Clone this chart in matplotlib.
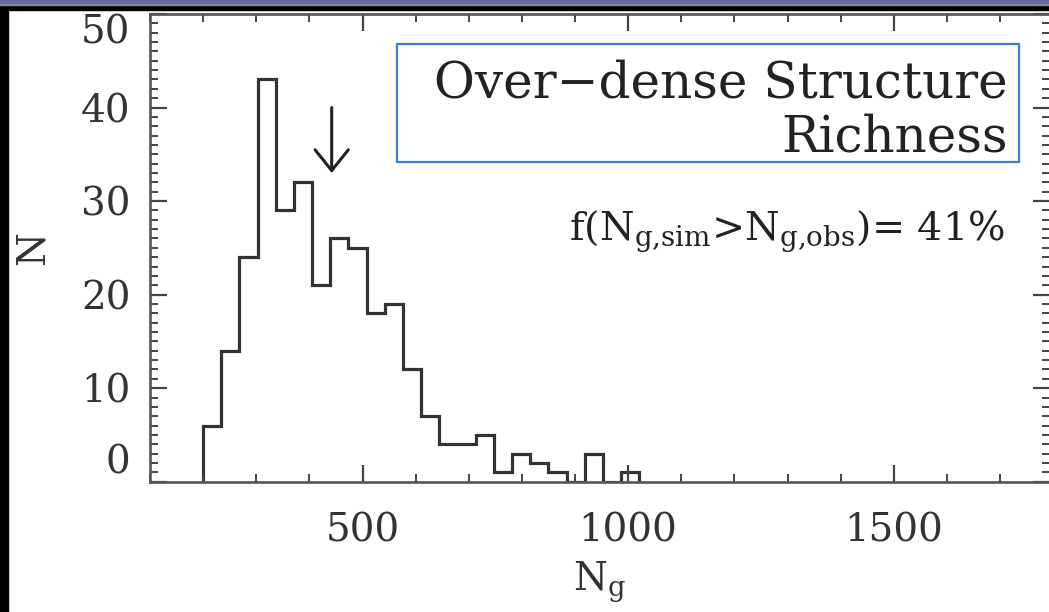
import matplotlib
matplotlib.use("Agg")
import matplotlib.pyplot as plt
from matplotlib.patches import Rectangle
from matplotlib.ticker import MultipleLocator
import numpy as np

plt.rcParams['font.family'] = ['DejaVu Serif']
plt.rcParams['mathtext.fontset'] = 'dejavuserif'

# histogram of simulated structure richness
bin_start = 200
bin_width = 34.2
counts = [6, 14, 24, 43, 29, 32, 21, 26, 25, 18, 19, 12,
          7, 4, 4, 5, 1, 3, 2, 1, 0, 3, 0, 1]
edges = bin_start + bin_width * np.arange(len(counts) + 1)

obs_value = 442          # position of the observed richness (arrow)
arrow_top, arrow_tip = 40.0, 33.0

W, H = 1049, 612
fig = plt.figure(figsize=(W / 100, H / 100), dpi=100)
fig.patch.set_facecolor('white')

# slide frame
fig.patches.append(Rectangle((0, 0), 8 / W, 1, transform=fig.transFigure,
                             color='black', zorder=0))
fig.patches.append(Rectangle((0, 1 - 10 / H), 1, 10 / H, transform=fig.transFigure,
                             color='black', zorder=0))
fig.patches.append(Rectangle((0, 1 - 4.5 / H), 1, 4.5 / H, transform=fig.transFigure,
                             color='#8a8a9a', zorder=1))
fig.patches.append(Rectangle((0, 1 - 3.3 / H), 1, 3.3 / H, transform=fig.transFigure,
                             color='#6a6a9e', zorder=2))

ax = fig.add_axes([150 / W, (H - 481.7) / H, 900 / W, (481.7 - 14) / H])
ax.stairs(counts, edges, color='#333333', lw=2.3)
ax.annotate('', xy=(obs_value, arrow_tip), xytext=(obs_value, arrow_top),
            arrowprops=dict(arrowstyle='->,head_length=0.5,head_width=0.4',
                            mutation_scale=30, lw=2.2, color='#222222',
                            shrinkA=0, shrinkB=0))

ax.set_xlim(100, 1794)
ax.set_ylim(0, 50)
ax.xaxis.set_major_locator(MultipleLocator(500))
ax.xaxis.set_minor_locator(MultipleLocator(100))
ax.set_yticks([0, 10, 20, 30, 40, 50])
ax.yaxis.set_minor_locator(MultipleLocator(1))

ax.tick_params(which='both', direction='in', top=True, right=True,
               color='#444444')
ax.tick_params(which='major', length=12, width=1.6)
ax.tick_params(which='minor', length=6, width=1.4)
ax.tick_params(axis='x', labelsize=28, pad=22, labelcolor='#333333')
ax.tick_params(axis='y', labelsize=28, pad=14, labelcolor='#333333')
for s in ax.spines.values():
    s.set_color('#555555')
    s.set_linewidth(1.9)

yt = ax.yaxis.get_major_ticks()
yt[0].label1.set_va('bottom')
yt[-1].label1.set_va('top')

# axis titles
fig.text(33 / W, 1 - 248 / H, 'N', rotation=90, fontsize=28,
         ha='center', va='center', color='#333333')
fig.text(600 / W, 1 - 582 / H, r'N$_\mathrm{g}$', fontsize=28,
         ha='center', va='center', color='#333333')

# labelled box
fig.patches.append(Rectangle((397 / W, 1 - 162 / H), 622 / W, 118 / H,
                             transform=fig.transFigure, fill=False,
                             edgecolor='#3a7fd2', lw=1.6, zorder=5))
fig.text(1008 / W, 1 - 97 / H, 'Over\u2212dense Structure', fontsize=36,
         ha='right', va='baseline', color='#222222')
fig.text(1008 / W, 1 - 152 / H, 'Richness', fontsize=36,
         ha='right', va='baseline', color='#222222')
fig.text(1005 / W, 1 - 240 / H,
         r'f(N$_\mathrm{g{,}sim}$>N$_\mathrm{g{,}obs}$)= 41%', fontsize=28.5,
         ha='right', va='baseline', color='#222222')

fig.savefig('out.png', dpi=100)
